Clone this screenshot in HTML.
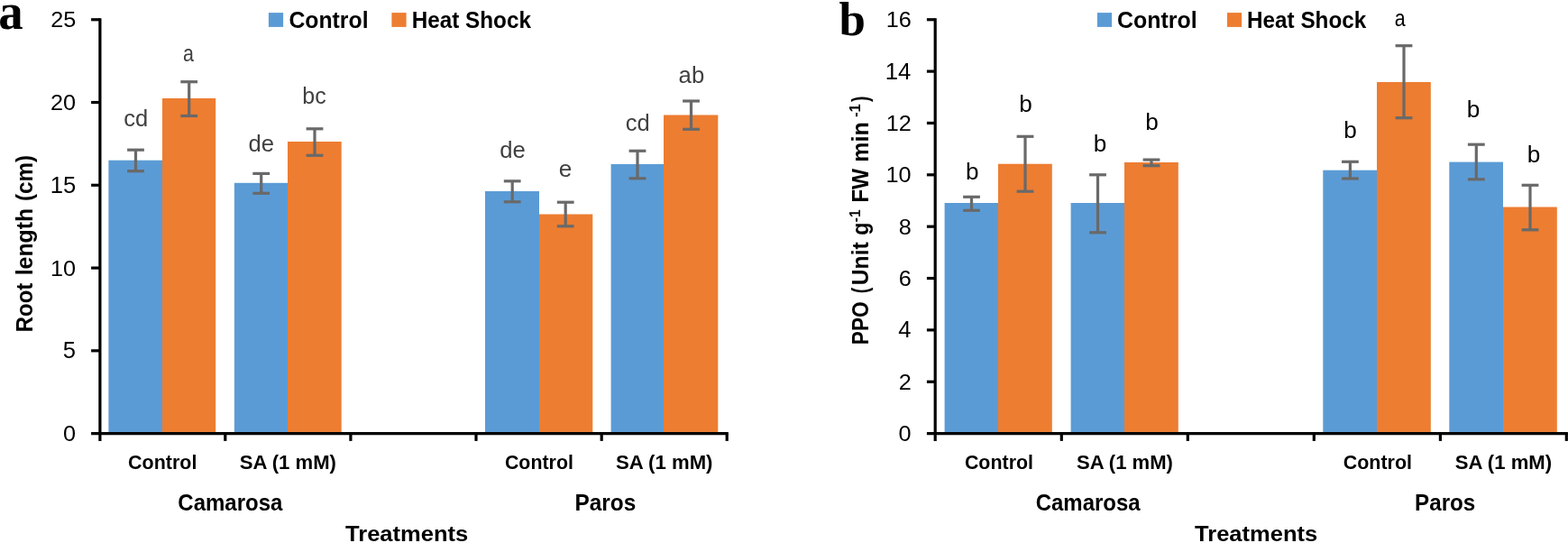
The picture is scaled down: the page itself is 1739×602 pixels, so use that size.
<!DOCTYPE html>
<html lang="en"><head><meta charset="utf-8"><title>Root length and PPO charts</title>
<style>
html,body{margin:0;padding:0;background:#fff;}
body{width:1739px;height:602px;overflow:hidden;font-family:"Liberation Sans",sans-serif;}
svg{display:block;}
</style></head><body>
<svg width="1739" height="602" viewBox="0 0 1739 602">
<rect width="1739" height="602" fill="#fff"/>
<rect x="120.40" y="177.70" width="59.60" height="302.90" fill="#5B9BD5"/>
<rect x="180.00" y="109.00" width="59.20" height="371.60" fill="#ED7D31"/>
<rect x="259.90" y="202.80" width="59.10" height="277.80" fill="#5B9BD5"/>
<rect x="319.00" y="157.00" width="59.70" height="323.60" fill="#ED7D31"/>
<rect x="538.00" y="212.00" width="60.00" height="268.60" fill="#5B9BD5"/>
<rect x="598.00" y="237.50" width="59.30" height="243.10" fill="#ED7D31"/>
<rect x="677.60" y="182.00" width="58.40" height="298.60" fill="#5B9BD5"/>
<rect x="736.00" y="127.50" width="60.30" height="353.10" fill="#ED7D31"/>
<line x1="150.50" y1="166.20" x2="150.50" y2="189.70" stroke="#696969" stroke-width="3.2"/>
<line x1="141.10" y1="166.20" x2="159.90" y2="166.20" stroke="#696969" stroke-width="3.2"/>
<line x1="141.10" y1="189.70" x2="159.90" y2="189.70" stroke="#696969" stroke-width="3.2"/>
<line x1="209.70" y1="90.70" x2="209.70" y2="128.50" stroke="#696969" stroke-width="3.2"/>
<line x1="200.30" y1="90.70" x2="219.10" y2="90.70" stroke="#696969" stroke-width="3.2"/>
<line x1="200.30" y1="128.50" x2="219.10" y2="128.50" stroke="#696969" stroke-width="3.2"/>
<line x1="289.70" y1="192.40" x2="289.70" y2="214.30" stroke="#696969" stroke-width="3.2"/>
<line x1="280.30" y1="192.40" x2="299.10" y2="192.40" stroke="#696969" stroke-width="3.2"/>
<line x1="280.30" y1="214.30" x2="299.10" y2="214.30" stroke="#696969" stroke-width="3.2"/>
<line x1="349.00" y1="142.80" x2="349.00" y2="172.30" stroke="#696969" stroke-width="3.2"/>
<line x1="339.60" y1="142.80" x2="358.40" y2="142.80" stroke="#696969" stroke-width="3.2"/>
<line x1="339.60" y1="172.30" x2="358.40" y2="172.30" stroke="#696969" stroke-width="3.2"/>
<line x1="568.20" y1="200.80" x2="568.20" y2="223.80" stroke="#696969" stroke-width="3.2"/>
<line x1="558.80" y1="200.80" x2="577.60" y2="200.80" stroke="#696969" stroke-width="3.2"/>
<line x1="558.80" y1="223.80" x2="577.60" y2="223.80" stroke="#696969" stroke-width="3.2"/>
<line x1="627.20" y1="224.20" x2="627.20" y2="250.80" stroke="#696969" stroke-width="3.2"/>
<line x1="617.80" y1="224.20" x2="636.60" y2="224.20" stroke="#696969" stroke-width="3.2"/>
<line x1="617.80" y1="250.80" x2="636.60" y2="250.80" stroke="#696969" stroke-width="3.2"/>
<line x1="707.00" y1="167.30" x2="707.00" y2="197.80" stroke="#696969" stroke-width="3.2"/>
<line x1="697.60" y1="167.30" x2="716.40" y2="167.30" stroke="#696969" stroke-width="3.2"/>
<line x1="697.60" y1="197.80" x2="716.40" y2="197.80" stroke="#696969" stroke-width="3.2"/>
<line x1="766.50" y1="112.00" x2="766.50" y2="143.30" stroke="#696969" stroke-width="3.2"/>
<line x1="757.10" y1="112.00" x2="775.90" y2="112.00" stroke="#696969" stroke-width="3.2"/>
<line x1="757.10" y1="143.30" x2="775.90" y2="143.30" stroke="#696969" stroke-width="3.2"/>
<line x1="110.90" y1="20.15" x2="110.90" y2="488.90" stroke="#000" stroke-width="3.2"/>
<line x1="101.10" y1="480.60" x2="807.80" y2="480.60" stroke="#000" stroke-width="3.2"/>
<line x1="249.80" y1="480.60" x2="249.80" y2="488.90" stroke="#000" stroke-width="3.2"/>
<line x1="388.90" y1="480.60" x2="388.90" y2="488.90" stroke="#000" stroke-width="3.2"/>
<line x1="528.00" y1="480.60" x2="528.00" y2="488.90" stroke="#000" stroke-width="3.2"/>
<line x1="667.20" y1="480.60" x2="667.20" y2="488.90" stroke="#000" stroke-width="3.2"/>
<line x1="806.20" y1="480.60" x2="806.20" y2="488.90" stroke="#000" stroke-width="3.2"/>
<line x1="101.10" y1="388.83" x2="110.90" y2="388.83" stroke="#000" stroke-width="3.2"/>
<line x1="101.10" y1="297.06" x2="110.90" y2="297.06" stroke="#000" stroke-width="3.2"/>
<line x1="101.10" y1="205.29" x2="110.90" y2="205.29" stroke="#000" stroke-width="3.2"/>
<line x1="101.10" y1="113.52" x2="110.90" y2="113.52" stroke="#000" stroke-width="3.2"/>
<line x1="101.10" y1="21.75" x2="110.90" y2="21.75" stroke="#000" stroke-width="3.2"/>
<rect x="1047.60" y="225.00" width="59.40" height="255.60" fill="#5B9BD5"/>
<rect x="1107.00" y="181.70" width="59.80" height="298.90" fill="#ED7D31"/>
<rect x="1187.60" y="225.00" width="59.40" height="255.60" fill="#5B9BD5"/>
<rect x="1247.00" y="180.00" width="59.80" height="300.60" fill="#ED7D31"/>
<rect x="1467.30" y="188.70" width="59.70" height="291.90" fill="#5B9BD5"/>
<rect x="1527.00" y="91.00" width="59.80" height="389.60" fill="#ED7D31"/>
<rect x="1607.30" y="179.60" width="59.70" height="301.00" fill="#5B9BD5"/>
<rect x="1667.00" y="229.50" width="59.80" height="251.10" fill="#ED7D31"/>
<line x1="1077.50" y1="218.30" x2="1077.50" y2="233.30" stroke="#696969" stroke-width="3.2"/>
<line x1="1068.10" y1="218.30" x2="1086.90" y2="218.30" stroke="#696969" stroke-width="3.2"/>
<line x1="1068.10" y1="233.30" x2="1086.90" y2="233.30" stroke="#696969" stroke-width="3.2"/>
<line x1="1137.00" y1="151.30" x2="1137.00" y2="212.20" stroke="#696969" stroke-width="3.2"/>
<line x1="1127.60" y1="151.30" x2="1146.40" y2="151.30" stroke="#696969" stroke-width="3.2"/>
<line x1="1127.60" y1="212.20" x2="1146.40" y2="212.20" stroke="#696969" stroke-width="3.2"/>
<line x1="1217.50" y1="193.80" x2="1217.50" y2="257.80" stroke="#696969" stroke-width="3.2"/>
<line x1="1208.10" y1="193.80" x2="1226.90" y2="193.80" stroke="#696969" stroke-width="3.2"/>
<line x1="1208.10" y1="257.80" x2="1226.90" y2="257.80" stroke="#696969" stroke-width="3.2"/>
<line x1="1277.00" y1="177.10" x2="1277.00" y2="183.70" stroke="#696969" stroke-width="3.2"/>
<line x1="1267.60" y1="177.10" x2="1286.40" y2="177.10" stroke="#696969" stroke-width="3.2"/>
<line x1="1267.60" y1="183.70" x2="1286.40" y2="183.70" stroke="#696969" stroke-width="3.2"/>
<line x1="1497.40" y1="179.30" x2="1497.40" y2="198.00" stroke="#696969" stroke-width="3.2"/>
<line x1="1488.00" y1="179.30" x2="1506.80" y2="179.30" stroke="#696969" stroke-width="3.2"/>
<line x1="1488.00" y1="198.00" x2="1506.80" y2="198.00" stroke="#696969" stroke-width="3.2"/>
<line x1="1557.00" y1="50.70" x2="1557.00" y2="130.70" stroke="#696969" stroke-width="3.2"/>
<line x1="1547.60" y1="50.70" x2="1566.40" y2="50.70" stroke="#696969" stroke-width="3.2"/>
<line x1="1547.60" y1="130.70" x2="1566.40" y2="130.70" stroke="#696969" stroke-width="3.2"/>
<line x1="1637.30" y1="160.20" x2="1637.30" y2="198.80" stroke="#696969" stroke-width="3.2"/>
<line x1="1627.90" y1="160.20" x2="1646.70" y2="160.20" stroke="#696969" stroke-width="3.2"/>
<line x1="1627.90" y1="198.80" x2="1646.70" y2="198.80" stroke="#696969" stroke-width="3.2"/>
<line x1="1697.00" y1="205.30" x2="1697.00" y2="254.80" stroke="#696969" stroke-width="3.2"/>
<line x1="1687.60" y1="205.30" x2="1706.40" y2="205.30" stroke="#696969" stroke-width="3.2"/>
<line x1="1687.60" y1="254.80" x2="1706.40" y2="254.80" stroke="#696969" stroke-width="3.2"/>
<line x1="1037.20" y1="20.15" x2="1037.20" y2="488.90" stroke="#000" stroke-width="3.2"/>
<line x1="1027.90" y1="480.60" x2="1738.90" y2="480.60" stroke="#000" stroke-width="3.2"/>
<line x1="1177.30" y1="480.60" x2="1177.30" y2="488.90" stroke="#000" stroke-width="3.2"/>
<line x1="1317.30" y1="480.60" x2="1317.30" y2="488.90" stroke="#000" stroke-width="3.2"/>
<line x1="1457.30" y1="480.60" x2="1457.30" y2="488.90" stroke="#000" stroke-width="3.2"/>
<line x1="1597.40" y1="480.60" x2="1597.40" y2="488.90" stroke="#000" stroke-width="3.2"/>
<line x1="1737.30" y1="480.60" x2="1737.30" y2="488.90" stroke="#000" stroke-width="3.2"/>
<line x1="1027.90" y1="423.24" x2="1037.20" y2="423.24" stroke="#000" stroke-width="3.2"/>
<line x1="1027.90" y1="365.89" x2="1037.20" y2="365.89" stroke="#000" stroke-width="3.2"/>
<line x1="1027.90" y1="308.53" x2="1037.20" y2="308.53" stroke="#000" stroke-width="3.2"/>
<line x1="1027.90" y1="251.18" x2="1037.20" y2="251.18" stroke="#000" stroke-width="3.2"/>
<line x1="1027.90" y1="193.82" x2="1037.20" y2="193.82" stroke="#000" stroke-width="3.2"/>
<line x1="1027.90" y1="136.46" x2="1037.20" y2="136.46" stroke="#000" stroke-width="3.2"/>
<line x1="1027.90" y1="79.11" x2="1037.20" y2="79.11" stroke="#000" stroke-width="3.2"/>
<line x1="1027.90" y1="21.75" x2="1037.20" y2="21.75" stroke="#000" stroke-width="3.2"/>
<rect x="297.90" y="14.10" width="16.20" height="15.80" fill="#5B9BD5"/>
<rect x="434.40" y="14.10" width="16.20" height="15.80" fill="#ED7D31"/>
<rect x="1216.90" y="14.10" width="16.20" height="15.80" fill="#5B9BD5"/>
<rect x="1361.00" y="14.10" width="16.10" height="15.80" fill="#ED7D31"/>
<text transform="translate(70.01,489) scale(1.0270,0.9971)" font-family="Liberation Sans, sans-serif" font-size="24.6" fill="#000">0</text>
<text transform="translate(69.81,397) scale(1.0421,1.0118)" font-family="Liberation Sans, sans-serif" font-size="24.6" fill="#000">5</text>
<text transform="translate(55.88,306) scale(1.0270,0.9971)" font-family="Liberation Sans, sans-serif" font-size="24.6" fill="#000">10</text>
<text transform="translate(55.74,214) scale(1.0421,1.0118)" font-family="Liberation Sans, sans-serif" font-size="24.6" fill="#000">15</text>
<text transform="translate(55.88,122) scale(1.0270,0.9971)" font-family="Liberation Sans, sans-serif" font-size="24.6" fill="#000">20</text>
<text transform="translate(56.14,30) scale(1.0270,0.9971)" font-family="Liberation Sans, sans-serif" font-size="24.6" fill="#000">25</text>
<text transform="translate(996.61,489) scale(1.0270,0.9971)" font-family="Liberation Sans, sans-serif" font-size="24.6" fill="#000">0</text>
<text transform="translate(996.86,432) scale(1.0270,0.9971)" font-family="Liberation Sans, sans-serif" font-size="24.6" fill="#000">2</text>
<text transform="translate(996.15,374) scale(1.0421,1.0118)" font-family="Liberation Sans, sans-serif" font-size="24.6" fill="#000">4</text>
<text transform="translate(996.86,317) scale(1.0270,0.9971)" font-family="Liberation Sans, sans-serif" font-size="24.6" fill="#000">6</text>
<text transform="translate(996.86,260) scale(1.0270,0.9971)" font-family="Liberation Sans, sans-serif" font-size="24.6" fill="#000">8</text>
<text transform="translate(982.48,202) scale(1.0270,0.9971)" font-family="Liberation Sans, sans-serif" font-size="24.6" fill="#000">10</text>
<text transform="translate(982.74,145) scale(1.0270,0.9971)" font-family="Liberation Sans, sans-serif" font-size="24.6" fill="#000">12</text>
<text transform="translate(981.82,88) scale(1.0421,1.0118)" font-family="Liberation Sans, sans-serif" font-size="24.6" fill="#000">14</text>
<text transform="translate(982.74,30) scale(1.0270,0.9971)" font-family="Liberation Sans, sans-serif" font-size="24.6" fill="#000">16</text>
<text transform="translate(320.39,31) scale(1.0130,1.0310)" font-family="Liberation Sans, sans-serif" font-size="24.5" font-weight="bold" fill="#000">Control</text>
<text transform="translate(456.67,31) scale(0.9913,1.0310)" font-family="Liberation Sans, sans-serif" font-size="24.5" font-weight="bold" fill="#000">Heat Shock</text>
<text transform="translate(1239.08,31) scale(1.0166,1.0310)" font-family="Liberation Sans, sans-serif" font-size="24.5" font-weight="bold" fill="#000">Control</text>
<text transform="translate(1383.07,31) scale(0.9913,1.0310)" font-family="Liberation Sans, sans-serif" font-size="24.5" font-weight="bold" fill="#000">Heat Shock</text>
<text transform="translate(-1.68,32) scale(0.9615,0.9907)" font-family="Liberation Serif, serif" font-size="57" font-weight="bold" fill="#000">a</text>
<text transform="translate(930.60,39) scale(0.9287,0.9392)" font-family="Liberation Serif, serif" font-size="57" font-weight="bold" fill="#000">b</text>
<text transform="translate(142.10,520) scale(0.9986,1.0550)" font-family="Liberation Sans, sans-serif" font-size="21.5" font-weight="bold" fill="#000">Control</text>
<text transform="translate(265.63,520) scale(1.0293,1.0550)" font-family="Liberation Sans, sans-serif" font-size="21.5" font-weight="bold" fill="#000">SA (1 mM)</text>
<text transform="translate(559.91,520) scale(0.9946,1.0550)" font-family="Liberation Sans, sans-serif" font-size="21.5" font-weight="bold" fill="#000">Control</text>
<text transform="translate(683.03,520) scale(1.0302,1.0550)" font-family="Liberation Sans, sans-serif" font-size="21.5" font-weight="bold" fill="#000">SA (1 mM)</text>
<text transform="translate(1069.90,520) scale(0.9959,1.0550)" font-family="Liberation Sans, sans-serif" font-size="21.5" font-weight="bold" fill="#000">Control</text>
<text transform="translate(1193.93,520) scale(1.0263,1.0550)" font-family="Liberation Sans, sans-serif" font-size="21.5" font-weight="bold" fill="#000">SA (1 mM)</text>
<text transform="translate(1489.80,520) scale(0.9973,1.0550)" font-family="Liberation Sans, sans-serif" font-size="21.5" font-weight="bold" fill="#000">Control</text>
<text transform="translate(1613.83,520) scale(1.0293,1.0550)" font-family="Liberation Sans, sans-serif" font-size="21.5" font-weight="bold" fill="#000">SA (1 mM)</text>
<text transform="translate(197.32,566) scale(0.9809,1.0353)" font-family="Liberation Sans, sans-serif" font-size="24.5" font-weight="bold" fill="#000">Camarosa</text>
<text transform="translate(637.46,566) scale(0.9962,1.0328)" font-family="Liberation Sans, sans-serif" font-size="24.5" font-weight="bold" fill="#000">Paros</text>
<text transform="translate(383.04,600) scale(1.0425,0.9851)" font-family="Liberation Sans, sans-serif" font-size="24.5" font-weight="bold" fill="#000">Treatments</text>
<text transform="translate(1148.72,566) scale(0.9792,1.0353)" font-family="Liberation Sans, sans-serif" font-size="24.5" font-weight="bold" fill="#000">Camarosa</text>
<text transform="translate(1569.07,566) scale(0.9885,1.0328)" font-family="Liberation Sans, sans-serif" font-size="24.5" font-weight="bold" fill="#000">Paros</text>
<text transform="translate(1325.04,600) scale(1.0417,0.9851)" font-family="Liberation Sans, sans-serif" font-size="24.5" font-weight="bold" fill="#000">Treatments</text>
<text transform="translate(137.34,140) scale(0.9640,0.9818)" font-family="Liberation Sans, sans-serif" font-size="26.5" fill="#404040">cd</text>
<text transform="translate(202.94,68) scale(0.8074,0.9544)" font-family="Liberation Sans, sans-serif" font-size="26.5" fill="#404040">a</text>
<text transform="translate(275.43,168) scale(0.9688,0.9818)" font-family="Liberation Sans, sans-serif" font-size="26.5" fill="#404040">de</text>
<text transform="translate(335.35,115) scale(0.9412,0.9818)" font-family="Liberation Sans, sans-serif" font-size="26.5" fill="#404040">bc</text>
<text transform="translate(554.13,175) scale(0.9688,0.9818)" font-family="Liberation Sans, sans-serif" font-size="26.5" fill="#404040">de</text>
<text transform="translate(619.72,196) scale(0.9878,0.9544)" font-family="Liberation Sans, sans-serif" font-size="26.5" fill="#404040">e</text>
<text transform="translate(693.85,145) scale(0.9640,0.9818)" font-family="Liberation Sans, sans-serif" font-size="26.5" fill="#404040">cd</text>
<text transform="translate(752.59,92) scale(0.9704,0.9818)" font-family="Liberation Sans, sans-serif" font-size="26.5" fill="#404040">ab</text>
<text transform="translate(1070.97,199) scale(0.9872,0.9818)" font-family="Liberation Sans, sans-serif" font-size="26.5" fill="#000">b</text>
<text transform="translate(1130.17,124) scale(0.9872,0.9818)" font-family="Liberation Sans, sans-serif" font-size="26.5" fill="#000">b</text>
<text transform="translate(1212.77,168) scale(0.9872,0.9818)" font-family="Liberation Sans, sans-serif" font-size="26.5" fill="#000">b</text>
<text transform="translate(1270.17,144) scale(0.9872,0.9818)" font-family="Liberation Sans, sans-serif" font-size="26.5" fill="#000">b</text>
<text transform="translate(1490.27,153) scale(0.9872,0.9818)" font-family="Liberation Sans, sans-serif" font-size="26.5" fill="#000">b</text>
<text transform="translate(1546.74,29) scale(0.8074,0.9544)" font-family="Liberation Sans, sans-serif" font-size="26.5" fill="#000">a</text>
<text transform="translate(1626.77,130) scale(0.9872,0.9818)" font-family="Liberation Sans, sans-serif" font-size="26.5" fill="#000">b</text>
<text transform="translate(1693.77,180) scale(0.9872,0.9818)" font-family="Liberation Sans, sans-serif" font-size="26.5" fill="#000">b</text>
<text transform="translate(36.30,368.16) rotate(-90) scale(0.9758,1.0400)" font-family="Liberation Sans, sans-serif" font-size="24.5" font-weight="bold" fill="#000">Root</text>
<text transform="translate(36.30,305.27) rotate(-90) scale(1.0128,1.0400)" font-family="Liberation Sans, sans-serif" font-size="24.5" font-weight="bold" fill="#000">length</text>
<text transform="translate(36.30,223.09) rotate(-90) scale(0.9888,1.0400)" font-family="Liberation Sans, sans-serif" font-size="24.5" font-weight="bold" fill="#000">(cm)</text>
<text transform="translate(963.00,382.17) rotate(-90) scale(0.9245,1.0400)" font-family="Liberation Sans, sans-serif" font-size="24.5" font-weight="bold" fill="#000">PPO</text>
<text transform="translate(963.00,325.34) rotate(-90) scale(0.7926,1.0400)" font-family="Liberation Sans, sans-serif" font-size="24.5" font-weight="bold" fill="#000">(</text>
<text transform="translate(963.00,316.26) rotate(-90) scale(1.0098,1.0400)" font-family="Liberation Sans, sans-serif" font-size="24.5" font-weight="bold" fill="#000">Unit</text>
<text transform="translate(963.00,260.70) rotate(-90) scale(0.9469,1.0400)" font-family="Liberation Sans, sans-serif" font-size="24.5" font-weight="bold" fill="#000">g</text>
<text transform="translate(954.20,246.15) rotate(-90) scale(0.9382,1.0000)" font-family="Liberation Sans, sans-serif" font-size="16.8" font-weight="bold" fill="#000">-1</text>
<text transform="translate(963.00,224.79) rotate(-90) scale(0.9959,1.0400)" font-family="Liberation Sans, sans-serif" font-size="24.5" font-weight="bold" fill="#000">FW</text>
<text transform="translate(963.00,179.63) rotate(-90) scale(1.0161,1.0400)" font-family="Liberation Sans, sans-serif" font-size="24.5" font-weight="bold" fill="#000">min</text>
<text transform="translate(954.20,130.10) rotate(-90) scale(0.9964,1.0000)" font-family="Liberation Sans, sans-serif" font-size="16.8" font-weight="bold" fill="#000">-1</text>
<text transform="translate(963.00,113.05) rotate(-90) scale(0.7857,1.0400)" font-family="Liberation Sans, sans-serif" font-size="24.5" font-weight="bold" fill="#000">)</text>
</svg>
</body></html>
